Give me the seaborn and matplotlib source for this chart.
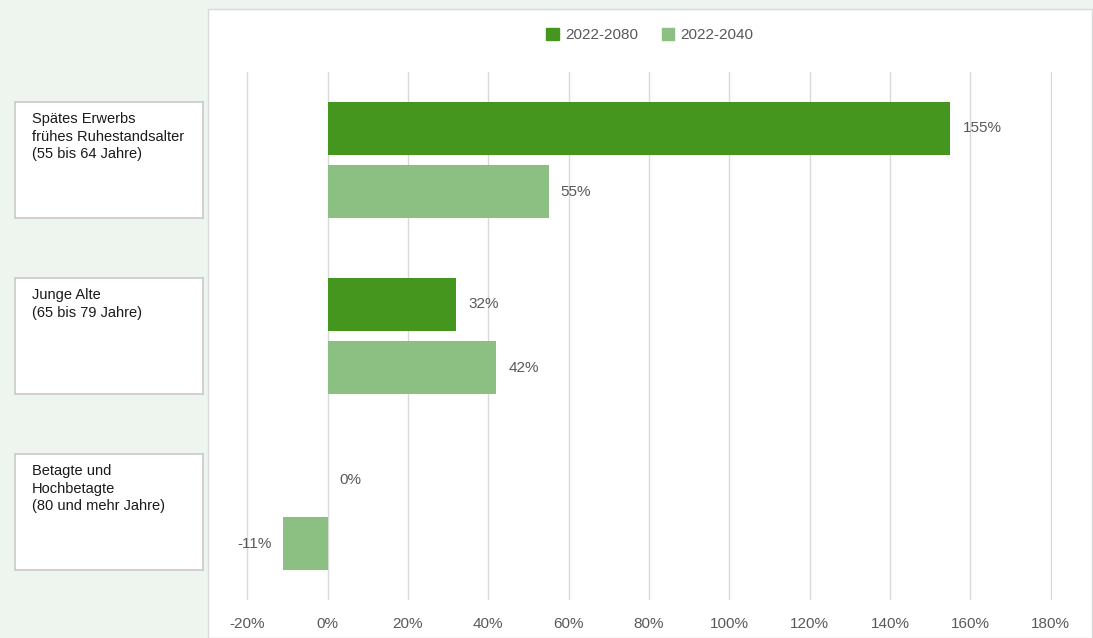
import pandas as pd
import matplotlib.pyplot as plt
import seaborn as sns
from matplotlib.patches import Rectangle
from matplotlib.transforms import blended_transform_factory

# data
groups = ['Spätes Erwerbs\nfrühes Ruhestandsalter\n(55 bis 64 Jahre)',
          'Junge Alte\n(65 bis 79 Jahre)',
          'Betagte und\nHochbetagte\n(80 und mehr Jahre)']
series = ['2022-2080', '2022-2040']
values_2080 = [155, 32, 0]
values_2040 = [55, 42, -11]
xticks = [-20, 0, 20, 40, 60, 80, 100, 120, 140, 160, 180]

df = pd.DataFrame({
    'Gruppe': groups * 2,
    'Zeitraum': [series[0]] * 3 + [series[1]] * 3,
    'Wert': values_2080 + values_2040,
})

sns.set_style('white')
plt.rcParams['font.family'] = ['Liberation Sans', 'DejaVu Sans']
grey = '#595959'
colors = {'2022-2080': '#44961f', '2022-2040': '#8cbf82'}

W, H = 1093, 638
fig = plt.figure(figsize=(W / 100, H / 100), dpi=100)
fig.patch.set_facecolor('#eef5ef')

# white chart panel (behind the axes)
fig.patches.append(Rectangle((208 / W, 0), (1092 - 208) / W, 1 - 9 / H,
                             transform=fig.transFigure, facecolor='white',
                             edgecolor='#d9d9d9', lw=1, zorder=-1))

ax = fig.add_axes([246 / W, 1 - 600 / H, (1052 - 246) / W, (600 - 72) / H])
ax.set_facecolor('none')
ax.set_zorder(1)

sns.barplot(data=df, y='Gruppe', x='Wert', hue='Zeitraum', orient='h',
            palette=colors, saturation=1, width=0.72, gap=0.17,
            linewidth=0, ax=ax, legend=False)

ax.set_xlim(-20.3, 180.3)
ax.set_ylim(2.5, -0.5)
ax.set_xticks(xticks)
ax.set_xticklabels([f'{t}%' for t in xticks], color=grey, fontsize=11)
ax.set_yticks([])
ax.set_xlabel('')
ax.set_ylabel('')
ax.tick_params(axis='x', length=0, pad=12)
for s in ax.spines.values():
    s.set_visible(False)
ax.grid(axis='x', color='#d9d9d9', lw=1)
ax.set_axisbelow(True)

# value labels
for cont in ax.containers:
    for bar in cont:
        v = bar.get_width()
        yc = bar.get_y() + bar.get_height() / 2
        if v < 0:
            ax.text(v - 3, yc, f'{v:.0f}%', ha='right', va='center', color=grey, fontsize=11)
        else:
            ax.text(v + 3, yc, f'{v:.0f}%', ha='left', va='center', color=grey, fontsize=11)

# category boxes on the left
tr = blended_transform_factory(fig.transFigure, ax.transData)
for i, g in enumerate(groups):
    fig.patches.append(Rectangle((15 / W, i - 0.33), 188 / W, 0.66, transform=tr,
                                 facecolor='white', edgecolor='#c8c8c8', lw=1.2, zorder=1))
    fig.text(32 / W, i - 0.27, g, transform=tr, ha='left', va='top',
             fontsize=10.5, color='#1a1a1a', linespacing=1.3, zorder=2)

# legend
handles = [Rectangle((0, 0), 1, 1, color=colors[s]) for s in series]
fig.legend(handles, series, loc='center', bbox_to_anchor=(650 / W, 1 - 35 / H),
           ncol=2, frameon=False, fontsize=11, labelcolor=grey,
           handlelength=0.8, handleheight=0.8, handletextpad=0.4, columnspacing=1.6)

fig.savefig('out.png', dpi=100)
